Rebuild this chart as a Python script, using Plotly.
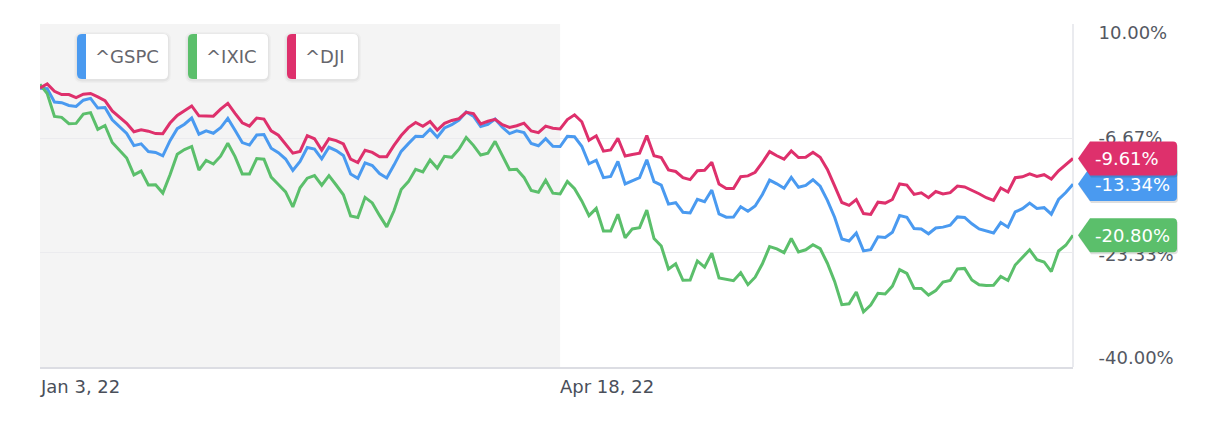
import pandas as pd
import plotly.graph_objects as go

# ---------------- data ----------------
holidays = ["2022-01-17", "2022-02-21", "2022-04-15", "2022-05-30", "2022-06-20", "2022-07-04"]
dates = [d.strftime("%Y-%m-%d") for d in
         pd.bdate_range("2022-01-03", "2022-07-29", freq="C", holidays=holidays)]

gspc = [0.64, 0.57, -1.38, -1.47, -1.87, -2.01, -1.11, -0.84, -2.25, -2.17,
        -3.97, -4.90, -5.95, -7.73, -7.47, -8.60, -8.73, -9.22, -7.01, -5.26,
        -4.61, -3.71, -6.06, -5.57, -5.92, -5.13, -3.76, -5.50, -7.29, -7.65,
        -6.19, -6.11, -8.10, -8.76, -9.68, -11.34, -10.02, -8.01, -8.23,
        -9.65, -7.97, -8.45, -9.18, -11.86, -12.49, -10.25, -10.63, -11.79, -12.44,
        -10.57, -8.57, -7.44, -6.36, -6.40, -5.34, -6.50, -5.16, -4.68, -4.00,
        -2.82, -3.44, -4.95,
        -4.62, -3.85, -5.06, -5.98, -5.58, -5.83, -7.42, -7.74, -6.71, -7.84,
        -7.86, -6.38, -6.44, -7.82, -10.37, -9.86, -12.40, -12.22, -10.04, -13.31,
        -12.82, -12.39, -9.78, -12.99, -13.49, -16.26, -16.05, -17.44, -17.54, -15.57,
        -15.91, -14.21, -17.68, -18.16, -18.14, -16.63, -17.30, -16.52, -14.86, -12.76,
        -13.30,
        -13.95, -12.37, -13.80, -13.53, -12.70, -13.65, -15.70, -18.16, -21.33, -21.63,
        -20.48, -23.07, -22.90, -21.01, -21.11, -20.36, -17.93, -18.17, -19.82, -19.88,
        -20.58,
        -19.74, -19.61, -19.33, -18.12, -18.19, -19.13, -19.88, -20.23, -20.47, -18.95,
        -19.62, -17.40, -16.92, -16.10, -16.88, -16.77, -17.73, -15.58, -14.56, -13.34]

ixic = [1.20, -0.14, -3.48, -3.61, -4.53, -4.49, -3.14, -2.92, -5.36, -4.80,
        -7.27, -8.34, -9.53, -11.99, -11.44, -13.46, -13.44, -14.65, -11.98, -8.98,
        -8.30, -7.85, -11.29, -9.89, -10.41, -9.27, -7.38, -9.33, -11.85, -11.85,
        -9.62, -9.72, -12.32, -13.40, -14.47, -16.67, -13.88, -12.47, -12.10,
        -13.50, -12.10, -13.47, -14.90, -17.99, -18.21, -15.27, -16.08, -17.90, -19.58,
        -17.23, -14.12, -12.98, -11.19, -11.55, -9.82, -11.01, -9.29, -9.43, -8.25,
        -6.55, -7.69, -9.10,
        -8.84, -7.11, -9.21, -11.23, -11.17, -12.36, -14.27, -14.53, -12.79, -14.66,
        -14.78, -12.95, -14.01, -15.79, -17.93, -16.88, -20.16, -20.17, -17.73, -21.16,
        -19.87, -19.69, -17.13, -21.27, -22.37, -25.71, -24.97, -27.36, -27.32, -24.54,
        -25.45, -23.40, -27.02, -27.21, -27.42, -26.27, -28.00, -26.91, -24.96, -22.46,
        -22.78,
        -23.33, -21.27, -23.22, -22.91, -22.18, -22.75, -24.87, -27.52, -30.91, -30.79,
        -29.06, -31.95, -30.98, -29.25, -29.35, -28.21, -25.81, -26.34, -28.53, -28.55,
        -29.51,
        -28.87, -27.63, -27.38, -25.72, -25.63, -27.31, -28.00, -28.11, -28.08, -26.80,
        -27.39, -25.13, -23.95, -22.92, -24.36, -24.69, -26.09, -23.09, -22.26, -20.80]

dji = [0.68, 1.27, 0.19, -0.28, -0.29, -0.74, -0.24, -0.13, -0.62, -1.17,
       -2.67, -3.60, -4.47, -5.70, -5.43, -5.62, -5.97, -5.99, -4.44, -3.32,
       -2.57, -1.95, -3.38, -3.44, -3.43, -2.41, -1.57, -3.02, -4.40, -4.88,
       -3.71, -3.86, -5.58, -6.22, -7.54, -8.82, -8.57, -6.27, -6.73,
       -8.38, -6.73, -7.00, -7.49, -9.69, -10.20, -8.40, -8.71, -9.34, -9.34,
       -7.69, -6.26, -5.11, -4.36, -4.91, -4.21, -5.45, -4.49, -4.06, -3.80,
       -2.87, -3.05, -4.57,
       -4.18, -3.90, -4.67, -5.07, -4.83, -4.45, -5.59, -5.83, -4.88, -5.19,
       -5.30, -3.93, -3.24, -4.25, -6.95, -6.30, -8.53, -8.36, -6.66, -9.25,
       -9.02, -8.83, -6.27, -9.19, -9.46, -11.26, -11.50, -12.40, -12.68, -11.40,
       -11.32, -10.14, -13.34, -13.99, -13.97, -12.27, -12.14, -11.61, -10.19, -8.60,
       -9.21,
       -9.70, -8.50, -9.46, -9.42, -8.69, -9.43, -11.19, -13.61, -16.02, -16.44,
       -15.60, -17.64, -17.75, -15.98, -16.11, -15.58, -13.31, -13.48, -14.84, -14.61,
       -15.31,
       -14.42, -14.78, -14.59, -13.63, -13.76, -14.21, -14.74, -15.32, -15.71, -13.90,
       -14.49, -12.41, -12.28, -11.84, -12.22, -11.97, -12.59, -11.39, -10.48, -9.61]

names = ["^GSPC", "^IXIC", "^DJI"]
colors = ["#4a9af0", "#5bbf6b", "#de306c"]
y_ticks = [10.0, -6.67, -23.33, -40.0]
shade_end = "2022-04-18"
x_label_dates = ["2022-01-03", "2022-04-18"]

# ---------------- layout constants ----------------
W, H = 1222, 438
ML, MR, MT, MB = 40, 149, 24, 71
PW, PH = W - ML - MR, H - MT - MB
FONT = "DejaVu Sans"
Y0, Y1 = -40.0, 10.0
label_shift_px = [9, -1, 2, -9]          # vertical nudge of right labels (px, down +)
legend_boxes = [(77, 168), (188, 268), (287, 358)]
LEG_TOP, LEG_BOT, STRIP = 34, 79, 9


def pt(x, y, ox, oy):
    return f"{x - ox:.1f},{oy - y:.1f}"


def rrect(x0, y0, x1, y1, r, ox, oy, rl=True, rr=True):
    p = lambda x, y: pt(x, y, ox, oy)
    s = [f"M{p(x0 + r, y0)}" if rl else f"M{p(x0, y0)}"]
    if rr:
        s.append(f"L{p(x1 - r, y0)}Q{p(x1, y0)} {p(x1, y0 + r)}"
                 f"L{p(x1, y1 - r)}Q{p(x1, y1)} {p(x1 - r, y1)}")
    else:
        s.append(f"L{p(x1, y0)}L{p(x1, y1)}")
    if rl:
        s.append(f"L{p(x0 + r, y1)}Q{p(x0, y1)} {p(x0, y1 - r)}"
                 f"L{p(x0, y0 + r)}Q{p(x0, y0)} {p(x0 + r, y0)}")
    else:
        s.append(f"L{p(x0, y1)}")
    s.append("Z")
    return "".join(s)


def flag_path(dy=0.0, dx=0.0):
    p = lambda x, y: pt(x + dx, y + dy, 0, 0)
    return (f"M{p(5, 0)}L{p(17, -17)}L{p(100, -17)}Q{p(104, -17)} {p(104, -13)}"
            f"L{p(104, 13)}Q{p(104, 17)} {p(100, 17)}L{p(17, 17)}Z")


fig = go.Figure()
series = list(zip(names, [gspc, ixic, dji], colors))
for name, vals, col in series:
    fig.add_trace(go.Scatter(x=dates, y=vals, mode="lines", name=name,
                             line=dict(color=col, width=3), showlegend=False,
                             hoverinfo="skip"))
# dummy trace to activate label axis
fig.add_trace(go.Scatter(x=[dates[0]], y=[None], yaxis="y2", showlegend=False,
                         hoverinfo="skip"))

shapes = []
annotations = []

# shaded early period
shapes.append(dict(type="rect", xref="x", yref="paper", x0=0, x1=dates.index(shade_end),
                   y0=0, y1=1, fillcolor="#f4f4f4", line=dict(width=0), layer="below"))
# right border
shapes.append(dict(type="line", xref="paper", yref="paper", x0=1, x1=1, y0=0, y1=1,
                   line=dict(color="#e3e4ea", width=1.5), layer="below"))

# legend chips
for (bx0, bx1), (name, vals, col) in zip(legend_boxes, series):
    for grow, alpha in [(3, 0.025), (1.5, 0.045)]:
        shapes.append(dict(type="path", xref="paper", yref="paper", xsizemode="pixel",
                           ysizemode="pixel", xanchor=0, yanchor=1,
                           path=rrect(bx0 - grow, LEG_TOP - grow + 1, bx1 + grow,
                                      LEG_BOT + grow + 1, 5 + grow, ML, MT),
                           fillcolor=f"rgba(0,0,0,{alpha})", line=dict(width=0), layer="above"))
    shapes.append(dict(type="path", xref="paper", yref="paper", xsizemode="pixel",
                       ysizemode="pixel", xanchor=0, yanchor=1,
                       path=rrect(bx0, LEG_TOP, bx1, LEG_BOT, 5, ML, MT),
                       fillcolor="white", line=dict(width=0), layer="above"))
    shapes.append(dict(type="path", xref="paper", yref="paper", xsizemode="pixel",
                       ysizemode="pixel", xanchor=0, yanchor=1,
                       path=rrect(bx0, LEG_TOP, bx0 + STRIP, LEG_BOT, 5, ML, MT, rr=False),
                       fillcolor=col, line=dict(width=0), layer="above"))
    annotations.append(dict(text=name, xref="paper", yref="paper",
                            x=(bx0 + STRIP + 7 - ML) / PW,
                            y=(H - MB - (LEG_TOP + LEG_BOT) / 2) / PH,
                            xanchor="left", yanchor="middle", showarrow=False,
                            font=dict(family=FONT, size=18, color="#66666c")))

# end-value flags (highest value drawn last), anchored at the right plot edge / last value
for name, vals, col in sorted(series, key=lambda s: s[1][-1]):
    shapes.append(dict(type="path", xref="paper", yref="y", xsizemode="pixel",
                       ysizemode="pixel", xanchor=1, yanchor=vals[-1],
                       path=flag_path(dy=2, dx=1),
                       fillcolor="rgba(0,0,0,0.13)", line=dict(width=0), layer="above"))
    shapes.append(dict(type="path", xref="paper", yref="y", xsizemode="pixel",
                       ysizemode="pixel", xanchor=1, yanchor=vals[-1], path=flag_path(),
                       fillcolor=col, line=dict(width=0), layer="above"))
    annotations.append(dict(text=f"{vals[-1]:.2f}%", x=1, y=vals[-1], xref="paper",
                            yref="y", xanchor="left", yanchor="middle", xshift=20,
                            showarrow=False, font=dict(family=FONT, size=18, color="white")))

# x labels, left aligned at their dates
for d in x_label_dates:
    ts = pd.Timestamp(d)
    annotations.append(dict(text=f"{ts.strftime('%b')} {ts.day}, {ts.strftime('%y')}",
                            x=dates.index(d), xref="x", y=0, yref="paper",
                            xanchor="left", yanchor="middle", yshift=-19, xshift=-2,
                            showarrow=False, font=dict(family=FONT, size=18, color="#4a4f5a")))

label_vals = [t - s * (Y1 - Y0) / PH for t, s in zip(y_ticks, label_shift_px)]

fig.update_layout(
    width=W, height=H, margin=dict(l=ML, r=MR, t=MT, b=MB, pad=0),
    paper_bgcolor="white", plot_bgcolor="white", showlegend=False,
    shapes=shapes, annotations=annotations,
    xaxis=dict(type="category", range=[0, len(dates) - 1], showgrid=False, showline=True,
               linecolor="#dcdde3", linewidth=2, showticklabels=False, ticks="",
               zeroline=False, fixedrange=True),
    yaxis=dict(range=[Y0, Y1], tickvals=y_ticks, showgrid=True, gridcolor="#ebebee",
               gridwidth=1, showticklabels=False, ticks="", zeroline=False,
               showline=False, fixedrange=True),
    yaxis2=dict(range=[Y0, Y1], overlaying="y", side="right", tickvals=label_vals,
                ticktext=[f"{t:.2f}%" for t in y_ticks], showgrid=False, zeroline=False,
                ticks="outside", ticklen=21, tickcolor="rgba(0,0,0,0)", showline=False,
                tickfont=dict(family=FONT, size=18, color="#545862"), fixedrange=True),
)

fig.write_html("out.html", config={"displayModeBar": False},
               post_script="document.body.style.margin='0';document.body.style.overflow='hidden';")
